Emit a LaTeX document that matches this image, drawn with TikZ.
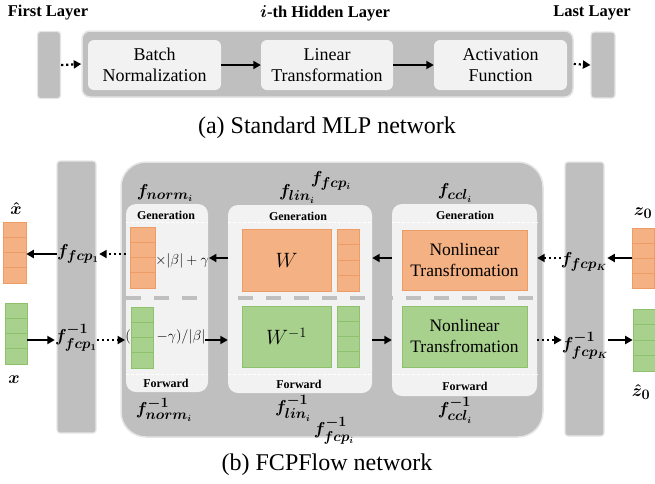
\documentclass[tikz,border=0pt]{standalone}
\usepackage{fontspec}
\setmainfont{Liberation Serif}
\usepackage{amsmath}
\usetikzlibrary{arrows.meta,calc}
\definecolor{barg}{HTML}{BFBFBF}
\definecolor{modg}{HTML}{F2F2F2}
\definecolor{orf}{HTML}{F4B183}
\definecolor{orl}{HTML}{EE9C66}
\definecolor{grf}{HTML}{A9D18E}
\definecolor{grl}{HTML}{8DC16C}
\definecolor{glow}{HTML}{E6E6E6}
\newcommand\mlab[1]{{\fontsize{19}{21}\selectfont\boldmath$#1$}}
\begin{document}
\begin{tikzpicture}[x=1pt,y=-1pt,
  graybar/.style={fill=barg,draw=glow,line width=1.2pt,rounded corners=3pt,inner sep=0pt},
  bigbox/.style={fill=barg,draw=glow,line width=1.5pt,inner sep=0pt},
  module/.style={fill=modg,draw=none,rounded corners=10pt,inner sep=0pt},
  topbox/.style={fill=modg,draw=none,rounded corners=6pt,inner sep=0pt,align=center,font=\fontsize{18}{21}\selectfont},
  cells/.style={path picture={\foreach \k in {1,2,3}{\draw[#1,line width=0.6pt] ($(path picture bounding box.north west)!\k/4!(path picture bounding box.south west)$) -- ($(path picture bounding box.north east)!\k/4!(path picture bounding box.south east)$);}}},
  ocol/.style={fill=orf,draw=orl,line width=0.6pt,inner sep=0pt,cells=orl},
  gcol/.style={fill=grf,draw=grl,line width=0.6pt,inner sep=0pt,cells=grl},
  oblk/.style={fill=orf,draw=orl,line width=0.6pt,inner sep=0pt,align=center,font=\fontsize{17.5}{21}\selectfont},
  gblk/.style={fill=grf,draw=grl,line width=0.6pt,inner sep=0pt,align=center,font=\fontsize{17.5}{21}\selectfont},
  headtxt/.style={font=\bfseries\fontsize{16.5}{18}\selectfont,inner sep=0pt},
  subtxt/.style={font=\bfseries\fontsize{12}{14}\selectfont,inner sep=0pt},
  captxt/.style={font=\fontsize{24}{26}\selectfont,inner sep=0pt},
  labtxt/.style={inner sep=0pt},
  arr/.style={line width=2pt,-{Triangle[length=7.5pt,width=8pt]}},
  darr/.style={line width=2.2pt,dash pattern=on 2.2pt off 2.8pt,-{Triangle[length=7.5pt,width=8pt]}},
  wdash/.style={white,line width=0.8pt,dash pattern=on 3pt off 2pt},
  middash/.style={barg,line width=4pt,dash pattern=on 15pt off 13pt}
]
\useasboundingbox (0,0) rectangle (655,483);
% ---------- (a) ----------
\node[headtxt] (tfirst) at (48,13) {First Layer};
\node[headtxt] (thid) at (325,13) {{\boldmath$i$}-th Hidden Layer};
\node[headtxt] (tlast) at (592,13) {Last Layer};
\node[graybar,minimum width=23pt,minimum height=67pt] (first) at (49,65) {};
\node[bigbox,rounded corners=8pt,minimum width=491pt,minimum height=66pt] (hid) at (327.5,64) {};
\node[topbox,minimum width=133pt,minimum height=50pt] (bn) at (154.5,65) {Batch\\Normalization};
\node[topbox,minimum width=132pt,minimum height=50pt] (lt) at (327,65) {Linear\\Transformation};
\node[topbox,minimum width=133pt,minimum height=50pt] (af) at (500.5,65) {Activation\\Function};
\node[graybar,minimum width=24pt,minimum height=66pt] (last) at (603,65) {};
\draw[darr] (first.east) -- (hid.west);
\draw[arr] (bn.east) -- (lt.west);
\draw[arr] (lt.east) -- (af.west);
\draw[darr] (hid.east) -- (last.west);
\node[captxt] (capa) at (327,128) {(a) Standard MLP network};
% ---------- (b) ----------
\coordinate (gen) at (0,258);
\coordinate (fwd) at (0,340);
\coordinate (genline) at (0,222);
\coordinate (fwdline) at (0,374);
\coordinate (mid) at (0,298);
\node[graybar,minimum width=39pt,minimum height=272pt] (barL) at (76.5,297) {};
\node[bigbox,rounded corners=25pt,minimum width=422pt,minimum height=275pt] (big) at (332,299.5) {};
\node[graybar,minimum width=39pt,minimum height=274pt] (barR) at (584.5,299) {};
\node[module,minimum width=82pt,minimum height=188pt] (normmod) at (167,298) {};
\node[module,minimum width=144pt,minimum height=188pt] (linmod) at (300,299) {};
\node[module,minimum width=145pt,minimum height=192pt] (cclmod) at (464.5,300) {};
% white dashed separators
\foreach \m in {normmod,linmod,cclmod}{
  \draw[wdash] (\m.west |- genline) -- (\m.east |- genline);
  \draw[wdash] (\m.west |- fwdline) -- (\m.east |- fwdline);
}
\draw[middash] (normmod.west |- mid) -- (cclmod.east |- mid);
% headers
\node[subtxt] (gn) at (166,215) {Generation};
\node[subtxt] (gl) at (298,216) {Generation};
\node[subtxt] (gc) at (465,215) {Generation};
\node[subtxt] (fn) at (166,383) {Forward};
\node[subtxt] (fl) at (299,384) {Forward};
\node[subtxt] (fc) at (465,386) {Forward};
% blocks
\node[ocol,minimum width=23pt,minimum height=61pt] (xhat) at (14.5,252.5) {};
\node[gcol,minimum width=22pt,minimum height=61pt] (xin) at (16,333.5) {};
\node[ocol,minimum width=25pt,minimum height=61pt] (no) at (142.5,257.5) {};
\node[gcol,minimum width=22pt,minimum height=61pt] (ng) at (142,337.5) {};
\node[oblk,minimum width=89pt,minimum height=62pt] (W) at (286.5,260) {\fontsize{21}{23}\selectfont$W$};
\node[ocol,minimum width=22pt,minimum height=62pt] (lo) at (348,260) {};
\node[gblk,minimum width=89pt,minimum height=61pt] (Winv) at (286.5,336.5) {\fontsize{21}{23}\selectfont$W^{-1}$};
\node[gcol,minimum width=22pt,minimum height=61pt] (lg) at (348,336.5) {};
\node[oblk,minimum width=125pt,minimum height=60pt] (co) at (464.5,260) {Nonlinear\\Transfromation};
\node[gblk,minimum width=125pt,minimum height=61pt] (cg) at (464.5,336.5) {Nonlinear\\Transfromation};
\node[ocol,minimum width=22pt,minimum height=60pt] (z0) at (643.5,258) {};
\node[gcol,minimum width=22pt,minimum height=62pt] (z0h) at (644,340) {};
% norm texts
\node[labtxt,font=\fontsize{14}{16}\selectfont] (mulb) at (182,261) {$\times|\beta|+\gamma$};
\node[labtxt,font=\fontsize{14}{16}\selectfont] (paren) at (128,337) {$($};
\node[labtxt,font=\fontsize{14}{16}\selectfont] (divb) at (181,337) {$-\gamma)/|\beta|$};
% math labels
\node[labtxt] (lxhat) at (16,208) {\mlab{\hat{x}}};
\node[labtxt] (lx) at (14,380) {\mlab{x}};
\node[labtxt] (lz0) at (643,213) {\mlab{z_0}};
\node[labtxt] (lz0h) at (641,392) {\mlab{\hat{z}_0}};
\node[labtxt] (f1) at (78,254) {\mlab{f_{fcp_1}}};
\node[labtxt] (f1i) at (76,338) {\mlab{f^{-1}_{fcp_1}}};
\node[labtxt] (fK) at (584,262) {\mlab{f_{fcp_K}}};
\node[labtxt] (fKi) at (585,346) {\mlab{f^{-1}_{fcp_K}}};
\node[labtxt] (fnorm) at (165,193) {\mlab{f_{norm_i}}};
\node[labtxt] (flin) at (297,194) {\mlab{f_{lin_i}}};
\node[labtxt] (ffcp) at (331,181) {\mlab{f_{fcp_i}}};
\node[labtxt] (fccl) at (455,193) {\mlab{f_{ccl_i}}};
\node[labtxt] (fnormi) at (164,410) {\mlab{f^{-1}_{norm_i}}};
\node[labtxt] (flini) at (293,408) {\mlab{f^{-1}_{lin_i}}};
\node[labtxt] (ffcpi) at (334,431) {\mlab{f^{-1}_{fcp_i}}};
\node[labtxt] (fccli) at (455,410) {\mlab{f^{-1}_{ccl_i}}};
% arrows generation row
\draw[arr] (z0.west |- gen) -- (fK.east |- gen);
\draw[darr] (fK.west |- gen) -- (cclmod.east |- gen);
\draw[arr] (cclmod.west |- gen) -- (linmod.east |- gen);
\draw[arr] (linmod.west |- gen) -- (mulb.east |- gen);
\draw[darr] (normmod.west |- f1) -- (f1.east);
\draw[arr] (f1.west) -- (xhat.east |- f1);
% arrows forward row
\draw[arr] (xin.east |- fwd) -- (f1i.west |- fwd);
\draw[darr] (f1i.east |- fwd) -- (paren.west |- fwd);
\draw[arr] (divb.east |- fwd) -- (linmod.west |- fwd);
\draw[arr] (linmod.east |- fwd) -- (cclmod.west |- fwd);
\draw[darr] (cclmod.east |- fwd) -- (fKi.west |- fwd);
\draw[arr] (fKi.east |- fwd) -- (z0h.west |- fwd);
\node[captxt] (capb) at (327,465) {(b) FCPFlow network};
\end{tikzpicture}
\end{document}
